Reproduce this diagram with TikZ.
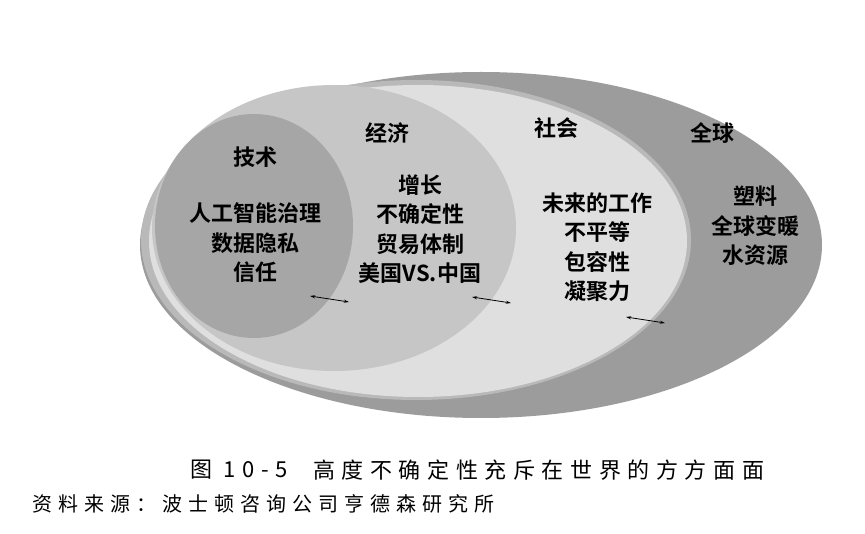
\documentclass[tikz,border=0pt]{standalone}
\usepackage{fontspec}
\setmainfont{Noto Sans CJK SC}[BoldFont={Noto Sans CJK SC Bold}]
\usetikzlibrary{arrows.meta}
\begin{document}
\begin{tikzpicture}[x=1pt,y=-1pt,
  lbl/.style={font=\bfseries\fontsize{22}{29.5}\selectfont,align=center,inner sep=0},
  captext/.style={font=\fontsize{22}{26}\selectfont\addfontfeature{LetterSpace=30},inner sep=0,anchor=west},
  dbl/.style={{Stealth[length=5pt,width=3pt]}-{Stealth[length=5pt,width=3pt]},line width=0.8pt}]
\useasboundingbox (0,0) rectangle (865,534);
\fill[white] (0,0) rectangle (865,534);
\fill[gray!78] (481,245) ellipse [x radius=341pt,y radius=173pt];
\fill[gray!55] (416,240) ellipse [x radius=275pt,y radius=160pt];
\fill[gray!25] (418,241) ellipse [x radius=269pt,y radius=156pt];
\fill[gray!45] (334,228) ellipse [x radius=182pt,y radius=143pt];
\fill[gray!70] (254,226) ellipse [x radius=99pt,y radius=112pt];
\node[lbl] (t1) at (255,157) {技术};
\node[lbl] (t2) at (255,243) {人工智能治理\\数据隐私\\信任};
\node[lbl] (e1) at (387,133) {经济};
\node[lbl] (e2) at (420,229) {增长\\不确定性\\贸易体制\\美国VS.中国};
\node[lbl] (s1) at (556,128) {社会};
\node[lbl] (s2) at (597,247) {未来的工作\\不平等\\包容性\\凝聚力};
\node[lbl] (g1) at (712,133) {全球};
\node[lbl] (g2) at (755,226) {塑料\\全球变暖\\水资源};
\coordinate (a1) at (310,296); \coordinate (b1) at (349,302);
\coordinate (a2) at (472,297); \coordinate (b2) at (511,303);
\coordinate (a3) at (626,317); \coordinate (b3) at (665,323);
\draw[dbl] (a1) -- (b1);
\draw[dbl] (a2) -- (b2);
\draw[dbl] (a3) -- (b3);
\node[captext] (c0) at (190,470) {图 10-5};
\node[captext] (c1) at (313,470) {高度不确定性充斥在世界的方方面面};
\node[captext,font=\fontsize{20}{24}\selectfont\addfontfeature{LetterSpace=30}] (c2) at (32,504) {资料来源：波士顿咨询公司亨德森研究所};
\end{tikzpicture}
\end{document}
